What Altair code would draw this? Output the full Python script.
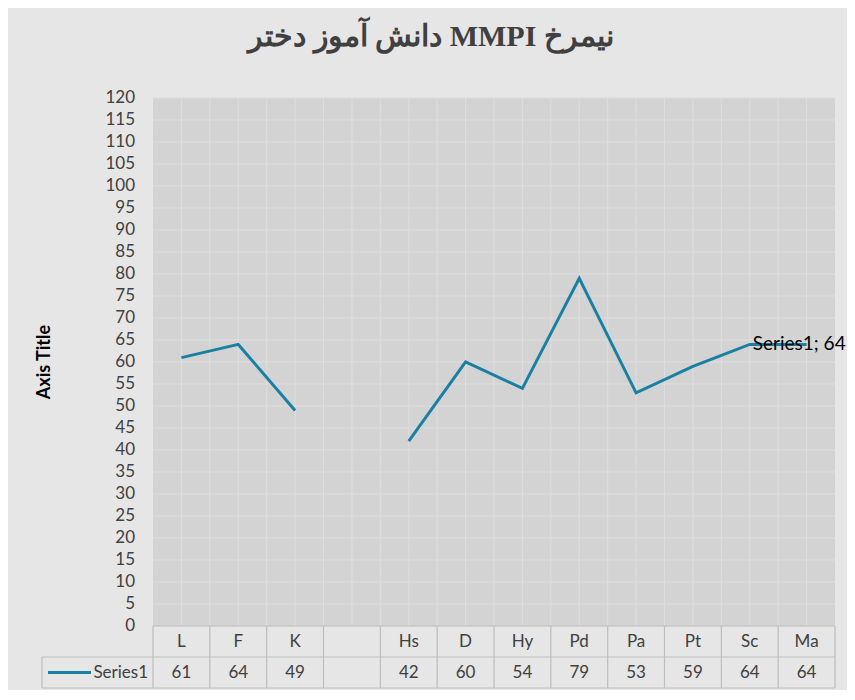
import altair as alt
import pandas as pd

# ---------------- data ----------------
categories = ["L", "F", "K", "", "Hs", "D", "Hy", "Pd", "Pa", "Pt", "Sc", "Ma"]
values = [61, 64, 49, None, 42, 60, 54, 79, 53, 59, 64, 64]
y_ticks = list(range(0, 121, 5))
series_name = "Series1"
title_text = "\u202bنیمرخ MMPI دانش آموز دختر\u202c"
axis_title = "Axis Title"
label_category = "Sc"

# ---------------- style / layout ----------------
PW, PH = 682, 528          # plot area in pixels
ROW_PX = 31                # data-table row height in pixels
LINE = "#1a80a3"
TXT = "#404040"
FONT = "Lato"
PLOT_BG = "#d3d3d3"
GRID = "#dedede"
TBL = "#bdbdbd"
n = len(categories)
YMAX = 120
U = YMAX / PH              # data units per pixel
ROW_U = ROW_PX * U
YMIN = -2 * ROW_U
H = PH + 2 * ROW_PX

# line data (break at the empty category)
rows = []
seg = 0
for i, (c, v) in enumerate(zip(categories, values)):
    if v is None:
        seg += 1
        continue
    rows.append({"cat": c, "xi": i + 0.5, "value": v, "seg": seg,
                 "lab": f"{series_name}; {v}"})
line_df = pd.DataFrame(rows)

xs = alt.Scale(domain=[0, n], nice=False, zero=False)
ys = alt.Scale(domain=[YMIN, YMAX], nice=False, zero=False)

bg_df = pd.DataFrame({"x0": [0], "x1": [n], "y0": [0], "y1": [YMAX]})
plotbg = alt.Chart(bg_df).mark_rect(fill=PLOT_BG).encode(
    x=alt.X("x0:Q", scale=xs, axis=None),
    x2="x1:Q",
    y=alt.Y("y0:Q", scale=ys, axis=None),
    y2="y1:Q",
)

hgrid = alt.Chart(pd.DataFrame({"y": y_ticks[1:]})).mark_rule(color=GRID, strokeWidth=1).encode(
    x=alt.X(datum=0, scale=xs, axis=None), x2=alt.X2(datum=n),
    y=alt.Y("y:Q", scale=ys, axis=None),
)
vgrid = alt.Chart(pd.DataFrame({"x": [i * 0.5 for i in range(1, 2 * n)]})).mark_rule(
    color=GRID, strokeWidth=1).encode(
    x=alt.X("x:Q", scale=xs, axis=None),
    y=alt.Y(datum=0, scale=ys, axis=None), y2=alt.Y2(datum=YMAX),
)

# y tick labels and axis title
ytick_lab = alt.Chart(pd.DataFrame({"y": y_ticks, "t": [str(v) for v in y_ticks]})).mark_text(
    align="right", baseline="middle", fontSize=17, font=FONT, color=TXT).encode(
    x=alt.value(-18),
    y=alt.Y("y:Q", scale=ys, axis=None),
    text="t:N",
)
ytitle = alt.Chart(pd.DataFrame({"y": [YMAX / 2], "t": [axis_title]})).mark_text(
    angle=270, align="center", baseline="middle", fontSize=18, font=FONT,
    fontWeight="bold", color="#000000").encode(
    x=alt.value(-108),
    y=alt.Y("y:Q", scale=ys, axis=None),
    text="t:N",
)

line = alt.Chart(line_df).mark_line(color=LINE, strokeWidth=3).encode(
    x=alt.X("xi:Q", scale=xs, axis=None),
    y=alt.Y("value:Q", scale=ys, axis=None),
    detail="seg:N",
)

label = alt.Chart(line_df).transform_filter(
    alt.datum.cat == label_category
).mark_text(align="left", baseline="middle", dx=3, fontSize=19, font=FONT,
            color="#000000").encode(
    x=alt.X("xi:Q", scale=xs, axis=None),
    y=alt.Y("value:Q", scale=ys, axis=None),
    text="lab:N",
)

# ---------------- data table below ----------------
LEG_PX = 111
L_IDX = -LEG_PX * n / PW
r_mid0, r_mid1 = -ROW_U / 2, -1.5 * ROW_U

tbl_text = pd.DataFrame(
    [{"xi": i + 0.5, "r": r_mid0, "t": c} for i, c in enumerate(categories)] +
    [{"xi": i + 0.5, "r": r_mid1, "t": ("" if v is None else str(v))} for i, v in enumerate(values)]
)
hl = pd.DataFrame({"r": [0, -ROW_U, -2 * ROW_U], "x0": [0, L_IDX, L_IDX], "x1": [n, n, n]})
vl = pd.DataFrame({"x": list(range(n + 1)) + [L_IDX],
                   "r0": [0] * (n + 1) + [-ROW_U], "r1": [-2 * ROW_U] * (n + 2)})

t_h = alt.Chart(hl).mark_rule(color=TBL, strokeWidth=1.2).encode(
    x=alt.X("x0:Q", scale=xs, axis=None), x2="x1:Q",
    y=alt.Y("r:Q", scale=ys, axis=None),
)
t_v = alt.Chart(vl).mark_rule(color=TBL, strokeWidth=1.2).encode(
    x=alt.X("x:Q", scale=xs, axis=None),
    y=alt.Y("r0:Q", scale=ys, axis=None), y2="r1:Q",
)
t_txt = alt.Chart(tbl_text).mark_text(fontSize=17, font=FONT, color=TXT,
                                     baseline="middle").encode(
    x=alt.X("xi:Q", scale=xs, axis=None),
    y=alt.Y("r:Q", scale=ys, axis=None),
    text="t:N",
)
leg_df = pd.DataFrame({"r": [r_mid1], "t": [series_name]})
leg_line = alt.Chart(leg_df).mark_rule(color=LINE, strokeWidth=3).encode(
    x=alt.value(-105), x2=alt.value(-62),
    y=alt.Y("r:Q", scale=ys, axis=None),
)
leg_txt = alt.Chart(leg_df).mark_text(
    align="right", baseline="middle", fontSize=17, font=FONT, color=TXT).encode(
    x=alt.value(-5),
    y=alt.Y("r:Q", scale=ys, axis=None),
    text="t:N",
)

chart = alt.layer(plotbg, hgrid, vgrid, t_h, t_v, ytick_lab, ytitle, line, label,
                  t_txt, leg_line, leg_txt).properties(
    width=PW, height=H,
    autosize=alt.AutoSizeParams(type="none"),
    padding={"left": 145, "top": 90, "right": 12, "bottom": 2},
    background="#e6e6e6",
    title=alt.TitleParams(
        text=title_text, font="Liberation Serif", fontSize=30, fontWeight="bold",
        color=TXT, anchor="middle", frame="group", dx=-63, offset=13,
        baseline="alphabetic"),
).configure_view(stroke=None)

chart.save("out.html", embed_options={"renderer": "svg", "actions": False})
